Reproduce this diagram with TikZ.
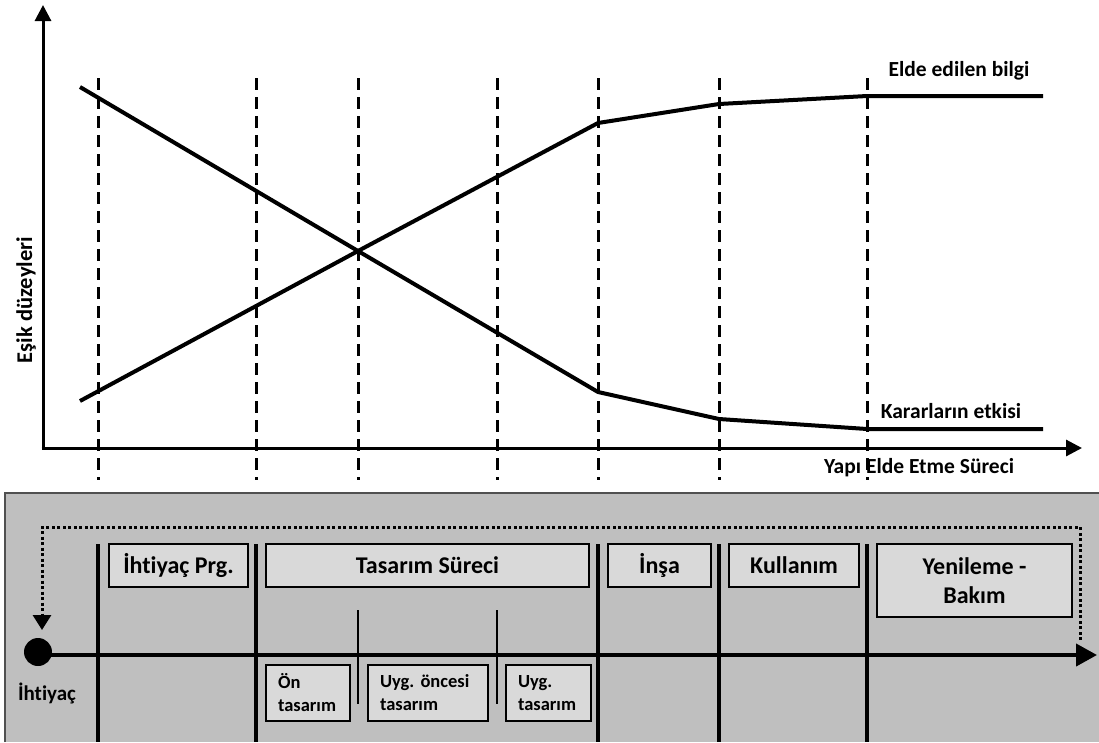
\documentclass[tikz,border=0pt]{standalone}
\usepackage{fontspec}
\setmainfont{Carlito}[Ligatures=NoCommon]
\usetikzlibrary{arrows.meta}
\definecolor{panelfill}{HTML}{BFBFBF}
\definecolor{panelline}{HTML}{505050}
\definecolor{boxfill}{HTML}{D9D9D9}
\frenchspacing
\begin{document}
\begin{tikzpicture}[x=1pt,y=-1pt,
  curve/.style={line width=4pt, line join=round},
  guide/.style={line width=3pt, dash pattern=on 12pt off 7pt},
  axisline/.style={line width=3pt, -{Triangle[length=16pt,width=16pt]}},
  lbl/.style={inner sep=0pt, anchor=base, font=\fontsize{21.5}{25}\selectfont\bfseries},
  phase/.style={draw=black, line width=2pt, fill=boxfill, inner sep=0pt,
    anchor=north west, font=\fontsize{24}{29}\selectfont\bfseries, align=center},
  subphase/.style={draw=black, line width=2pt, fill=boxfill, inner ysep=0pt,
    inner xsep=12pt, anchor=north west, font=\fontsize{18.5}{23}\selectfont\bfseries, align=left},
  stage/.style={line width=4pt},
  substage/.style={line width=2pt},
]
\useasboundingbox (0,0) rectangle (1099,742);

% ---------- upper chart ----------
\coordinate (origin) at (43,448);
\coordinate (ytop) at (43,5);
\coordinate (xend) at (1082,448);
\draw[axisline] (origin) -- (ytop);
\draw[axisline] ([xshift=-1.5pt]origin) -- (xend);

% phase boundaries
\foreach \name/\x in {g1/98,g2/256,g3/358,g4/497,g5/598,g6/719,g7/867}{
  \coordinate (\name t) at (\x,78);
  \coordinate (\name b) at (\x,480);
  \draw[guide] (\name t) -- (\name b);
}

% knowledge gained
\coordinate (k0) at (80,401);
\coordinate (k1) at (358,251);
\coordinate (k2) at (598,123);
\coordinate (k3) at (719,104);
\coordinate (k4) at (867,96);
\coordinate (k5) at (1043,96);
\draw[curve] (k0) -- (k1) -- (k2) -- (k3) -- (k4) -- (k5);

% influence of decisions
\coordinate (d0) at (80,87);
\coordinate (d2) at (598,392);
\coordinate (d3) at (719,419);
\coordinate (d4) at (867,429);
\coordinate (d5) at (1043,429);
\draw[curve] (d0) -- (k1) -- (d2) -- (d3) -- (d4) -- (d5);

\node[lbl] (lk) at (959,76) {Elde edilen bilgi};
\node[lbl] (ld) at (951,418) {Kararların etkisi};
\node[lbl] (lx) at (919,473) {Yapı Elde Etme Süreci};
\node[lbl, font=\fontsize{22.5}{26}\selectfont\bfseries, rotate=90] (ly) at (32,300) {Eşik düzeyleri};

% ---------- lower panel ----------
\fill[panelfill] (5,493) rectangle (1099,742);
\draw[panelline, line width=1.5pt] (5,742) -- (5,493) -- (1099,493);

% stage separators
\foreach \name/\x in {s1/98,s2/256,s3/598,s4/719,s5/867}{
  \coordinate (\name t) at (\x,544);
  \coordinate (\name b) at (\x,742);
  \draw[stage] (\name t) -- (\name b);
}
\foreach \name/\x in {u1/358,u2/497}{
  \coordinate (\name t) at (\x,610);
  \coordinate (\name b) at (\x,704);
  \draw[substage] (\name t) -- (\name b);
}

% time line
\node[circle, fill=black, minimum size=28pt, inner sep=0pt] (start) at (38,652) {};
\coordinate (tend) at (1097,655);
\draw[line width=4pt, -{Triangle[length=21pt,width=22pt]}] (start.center |- tend) -- (tend);
\node[font=\fontsize{21}{25}\selectfont\bfseries, inner sep=0pt, anchor=base] (need) at (47,700) {İhtiyaç};

% feedback loop
\coordinate (fb1) at (1080,640);
\coordinate (fb2) at (1080,527);
\coordinate (fb3) at (42,527);
\coordinate (fb4) at (42,630);
\draw[line width=3pt, dash pattern=on 3pt off 2.5pt, -{Triangle[length=15pt,width=18pt]}]
  (fb1) -- (fb2) -- (fb3) -- (fb4);

% phase boxes
\node[phase, minimum width=139pt, minimum height=43pt] (prg) at (108,543) {İhtiyaç Prg.};
\node[phase, minimum width=323pt, minimum height=43pt] (tas) at (265,543) {Tasarım Süreci};
\node[phase, minimum width=103pt, minimum height=43pt] (insa) at (607,543) {İnşa};
\node[phase, minimum width=130pt, minimum height=43pt] (kul) at (728,543) {Kullanım};
\node[phase, minimum width=195pt, minimum height=73pt] (yen) at (876,543) {Yenileme -\\Bakım};

% design sub-phases
\node[subphase, text width=60pt, minimum height=56pt] (on) at (265,664) {Ön\\tasarım};
\node[subphase, text width=96pt, minimum height=56pt] (uo) at (367,664) {Uyg. öncesi\\tasarım};
\node[subphase, text width=61pt, minimum height=56pt] (ut) at (505,664) {Uyg.\\tasarım};
\end{tikzpicture}
\end{document}
